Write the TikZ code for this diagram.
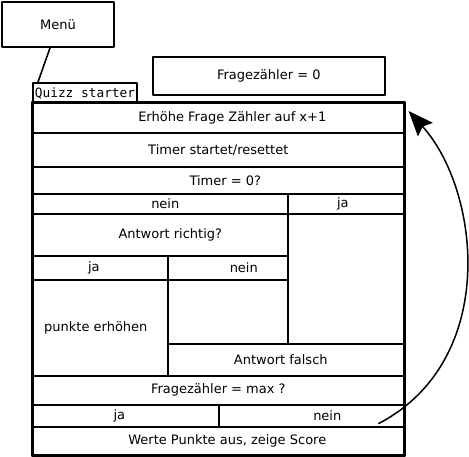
\documentclass[tikz,border=0pt]{standalone}
\usepackage{fontspec}
\setmainfont{DejaVu Sans}
\setmonofont{DejaVu Sans Mono}
\usetikzlibrary{calc,arrows.meta}
\tikzset{
  zelle/.style={draw, line width=1.6pt, anchor=north west, inner sep=0pt},
  rahmen/.style={draw, line width=2pt}
}
\begin{document}
\begin{tikzpicture}[x=1pt, y=-1pt, line cap=round, line join=round, font=\fontsize{13}{15}\selectfont]
  \useasboundingbox (0,0) rectangle (469,456);
  % --- Kopf ---
  \node[zelle, rahmen, minimum width=112pt, minimum height=45pt] (menu) at (1,1) {Menü};
  \node[zelle, minimum width=232pt, minimum height=38pt] (zaehler) at (152,56) {Fragezähler = 0};
  \node[zelle, rahmen, minimum width=104pt, minimum height=20pt, font=\fontsize{12.8}{14}\ttfamily] (quizz) at (32,82) {Quizz starter};
  \draw[line width=1.6pt] ($(menu.south west)+(49,0)$) -- ($(quizz.north west)+(6,0)$);
  % --- Schleife ---
  \node[zelle, minimum width=371pt, minimum height=30pt] (erhoehe) at (32,102) {\hspace*{28pt}Erhöhe Frage Zähler auf x+1};
  \node[zelle, minimum width=371pt, minimum height=34pt] (timer) at (32,132) {Timer startet/resettet};
  \node[zelle, minimum width=371pt, minimum height=27pt] (timernull) at (32,166) {\hspace*{14pt}Timer = 0?};
  \node[zelle, minimum width=255pt, minimum height=20pt] (tnein) at (32,193) {\hspace*{10pt}nein};
  \node[zelle, minimum width=116pt, minimum height=20pt] (tja) at (287,193) {ja\hspace*{6pt}};
  % --- Antwort ---
  \node[zelle, minimum width=255pt, minimum height=42pt] (richtig) at (32,213) {\hspace*{20pt}Antwort richtig?};
  \node[zelle, minimum width=116pt, minimum height=130pt] (leerja) at (287,213) {};
  \node[zelle, minimum width=135pt, minimum height=24pt] (rja) at (32,255) {ja\hspace*{13pt}};
  \node[zelle, minimum width=120pt, minimum height=24pt] (rnein) at (167,255) {\hspace*{32pt}nein};
  \node[zelle, minimum width=135pt, minimum height=96pt] (punkte) at (32,279) {punkte erhöhen\hspace*{9pt}};
  \node[zelle, minimum width=120pt, minimum height=64pt] (leernein) at (167,279) {};
  \node[zelle, minimum width=236pt, minimum height=32pt] (falsch) at (167,343) {Antwort falsch\hspace*{10pt}};
  % --- Ende ---
  \node[zelle, minimum width=371pt, minimum height=29pt] (max) at (32,375) {Fragezähler = max ?};
  \node[zelle, minimum width=186pt, minimum height=22pt] (mja) at (32,404) {ja\hspace*{13pt}};
  \node[zelle, minimum width=185pt, minimum height=22pt] (mnein) at (218,404) {\hspace*{32pt}nein};
  \node[zelle, minimum width=371pt, minimum height=28pt] (score) at (32,426) {\hspace*{18pt}Werte Punkte aus, zeige Score};
  \draw[rahmen] (erhoehe.north west) rectangle (score.south east);
  % --- zurück zum Anfang ---
  \coordinate (bogenstart) at ($(mnein.south east)+(-26,-4)$);
  \coordinate (bogenende) at ($(erhoehe.north east)+(4,9)$);
  \draw[-{Stealth[length=25pt,width=20pt,inset=4pt]}, line width=1.5pt]
    (bogenstart) .. controls (500,360) and (480,190) .. (bogenende);
\end{tikzpicture}
\end{document}
